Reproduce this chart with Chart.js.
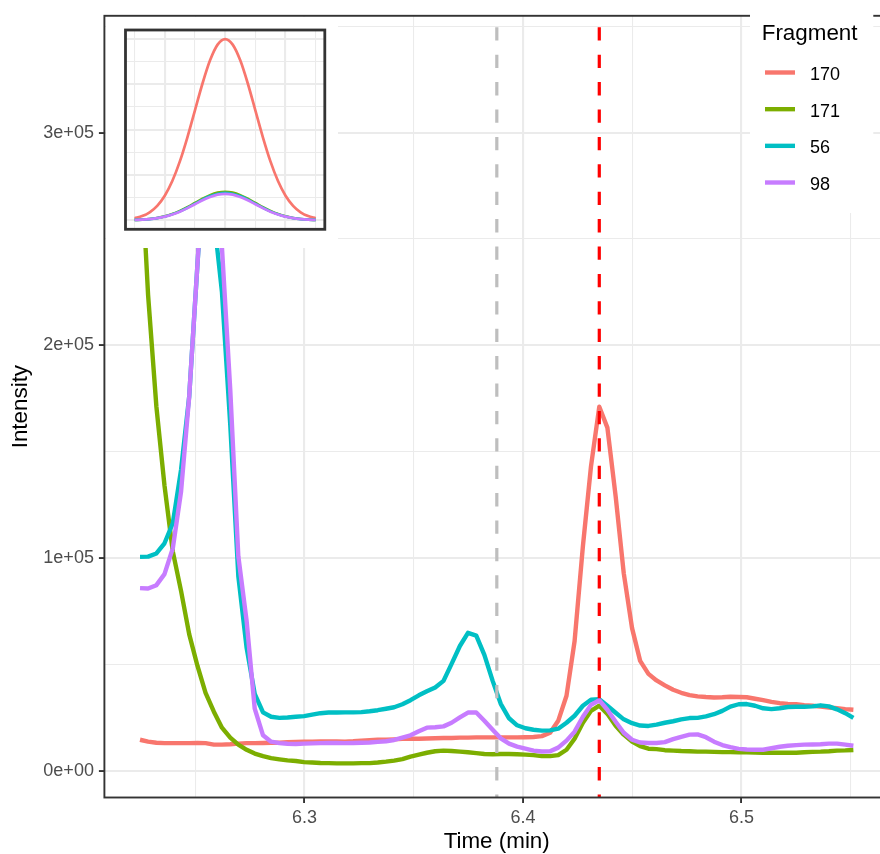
<!DOCTYPE html>
<html><head><meta charset="utf-8">
<script src="https://cdn.jsdelivr.net/npm/chart.js@4.4.1/dist/chart.umd.min.js"></script>
<style>
html,body{margin:0;padding:0;overflow:hidden;background:#fff;width:880px;height:854px;}
#wrap{position:relative;width:890px;height:854px;}
#main{position:absolute;left:0;top:0;}
#insetBox{position:absolute;left:105.5px;top:17px;width:232px;height:231px;background:#fff;}
#inset{position:absolute;left:0;top:0;}
</style></head><body>
<div id="wrap">
<canvas id="main" width="890" height="854"></canvas>
<div id="insetBox"><canvas id="inset" width="232" height="231"></canvas></div>
</div>
<script>
// ---------- data ----------
const fragments = ['170', '171', '56', '98'];
const fragColors = ['#F8766D', '#7CAE00', '#00BFC4', '#C77CFF'];

const times = [
6.2247, 6.2284, 6.2322, 6.2359, 6.2397, 6.2435, 6.2472, 6.2510, 6.2547, 6.2585,
6.2622, 6.2660, 6.2697, 6.2735, 6.2772, 6.2810, 6.2847, 6.2885, 6.2922, 6.2960,
6.2998, 6.3035, 6.3073, 6.3110, 6.3148, 6.3185, 6.3223, 6.3260, 6.3298, 6.3335,
6.3373, 6.3410, 6.3448, 6.3485, 6.3523, 6.3560, 6.3598, 6.3636, 6.3673, 6.3711,
6.3748, 6.3786, 6.3823, 6.3861, 6.3898, 6.3936, 6.3973, 6.4011, 6.4048, 6.4086,
6.4124, 6.4161, 6.4199, 6.4236, 6.4274, 6.4311, 6.4349, 6.4386, 6.4424, 6.4461,
6.4499, 6.4536, 6.4574, 6.4611, 6.4649, 6.4687, 6.4724, 6.4762, 6.4799, 6.4837,
6.4874, 6.4912, 6.4949, 6.4987, 6.5024, 6.5062, 6.5099, 6.5137, 6.5175, 6.5212,
6.5250, 6.5287, 6.5325, 6.5362, 6.5400, 6.5437, 6.5475, 6.5512];

const f170 = [
14500, 13600, 13100, 12900, 12900, 12900, 12900, 13000, 12900, 12200,
12200, 12400, 12700, 12900, 12900, 13000, 13100, 13100, 13400, 13500,
13600, 13600, 13700, 13700, 13700, 13600, 13800, 14100, 14300, 14500,
14500, 14700, 14900, 15000, 15000, 15100, 15200, 15300, 15300, 15500,
15500, 15600, 15600, 15600, 15600, 15600, 15600, 15700, 15800, 16200,
17800, 23400, 35200, 60900, 105500, 143000, 171100, 161300, 128900, 92800,
67000, 51600, 45500, 42400, 40100, 38000, 36600, 35500, 34900, 34600,
34400, 34500, 34700, 34600, 34500, 33800, 33100, 32300, 31700, 31400,
31200, 30800, 30500, 30100, 29700, 29300, 28900, 28600];

const f171 = [
295300, 223600, 171100, 134100, 103100, 84400, 64200, 49200, 36600, 27700,
20200, 15500, 12200, 9800, 8000, 6800, 5900, 5300, 4800, 4500,
4000, 3800, 3600, 3500, 3400, 3400, 3400, 3500, 3500, 3800,
4200, 4700, 5400, 6600, 7500, 8400, 9100, 9400, 9200, 8900,
8600, 8200, 7800, 7700, 7800, 7800, 7700, 7500, 7300, 6800,
6800, 7300, 9800, 15000, 22500, 28100, 30500, 26700, 21100, 16900,
13600, 11500, 10300, 10100, 9600, 9400, 9200, 9100, 8900, 8900,
8800, 8700, 8700, 8600, 8600, 8500, 8400, 8400, 8400, 8400,
8400, 8600, 8800, 8900, 9100, 9400, 9500, 9700];

const f56 = [
100500, 100600, 102100, 106900, 116300, 141600, 175800, 238200, 295300, 260200,
225000, 162700, 91400, 57700, 36100, 27400, 25300, 24800, 25000, 25300,
25600, 26300, 27000, 27300, 27300, 27400, 27400, 27500, 27900, 28400,
29100, 29800, 31200, 33100, 35400, 37300, 39100, 42200, 50200, 58600,
64800, 63500, 54400, 42200, 31400, 24600, 21300, 19900, 19200, 18800,
18900, 19700, 22500, 25800, 30500, 33300, 33600, 30500, 27200, 24100,
22300, 21200, 21000, 21600, 22500, 23200, 24100, 24700, 24800, 25500,
26500, 28100, 30100, 31200, 31300, 30500, 29300, 28900, 29300, 29900,
30000, 30000, 30200, 30700, 30200, 28800, 27000, 24800];

const f98 = [
85800, 85600, 87200, 92400, 104500, 131300, 175800, 238200, 300000, 276600,
246100, 179100, 100800, 70300, 29100, 16600, 13600, 12900, 12600, 12500,
12700, 12800, 12900, 13000, 13000, 12900, 13000, 13100, 13200, 13500,
13800, 14400, 15500, 16600, 18500, 20200, 20400, 20800, 22500, 25000,
27300, 27300, 23400, 19200, 15200, 12700, 11300, 10300, 9400, 9000,
9100, 10800, 14100, 18300, 25300, 30900, 33100, 28600, 23000, 17800,
14500, 13200, 13000, 13000, 13400, 14800, 15900, 16900, 17000, 15700,
13600, 12000, 11000, 10200, 9900, 9800, 9800, 10500, 11200, 11700,
12000, 12200, 12300, 12400, 12700, 12700, 12200, 11700];

// reference retention times (dashed vertical lines)
const vlineTimes = [6.388, 6.4349];
const vlineColors = ['#BEBEBE', '#FF0000'];

// axes
const xMin = 6.2084, xMax = 6.5675;
const yMin = -12650, yMax = 354940;
const xMajorTicks = [6.3, 6.4, 6.5];
const xTickLabels = ['6.3', '6.4', '6.5'];
const xMinorTicks = [6.25, 6.35, 6.45, 6.55];
const yMajorTicks = [0, 100000, 200000, 300000];
const yTickLabels = ['0e+00', '1e+05', '2e+05', '3e+05'];
const yMinorTicks = [50000, 150000, 250000, 350000];

// inset (fitted peak shapes, relative intensity)
const insetX = [-3, -2.75, -2.5, -2.25, -2, -1.75, -1.5, -1.25, -1, -0.75, -0.5, -0.25, 0,
                0.25, 0.5, 0.75, 1, 1.25, 1.5, 1.75, 2, 2.25, 2.5, 2.75, 3];
const inset170 = [0.0111, 0.0228, 0.0439, 0.0796, 0.1353, 0.2163, 0.3247, 0.4578, 0.6065, 0.7548, 0.8825, 0.9692, 1,
                  0.9692, 0.8825, 0.7548, 0.6065, 0.4578, 0.3247, 0.2163, 0.1353, 0.0796, 0.0439, 0.0228, 0.0111];
const inset171 = [0.0017, 0.0036, 0.0069, 0.0125, 0.0212, 0.0340, 0.0510, 0.0719, 0.0952, 0.1185, 0.1386, 0.1522, 0.157,
                  0.1522, 0.1386, 0.1185, 0.0952, 0.0719, 0.0510, 0.0340, 0.0212, 0.0125, 0.0069, 0.0036, 0.0017];
const inset56 = [0.0017, 0.0034, 0.0066, 0.0120, 0.0204, 0.0327, 0.0490, 0.0691, 0.0916, 0.1140, 0.1333, 0.1463, 0.151,
                 0.1463, 0.1333, 0.1140, 0.0916, 0.0691, 0.0490, 0.0327, 0.0204, 0.0120, 0.0066, 0.0034, 0.0017];
const inset98 = [0.0016, 0.0033, 0.0064, 0.0116, 0.0198, 0.0316, 0.0474, 0.0668, 0.0885, 0.1102, 0.1288, 0.1415, 0.146,
                 0.1415, 0.1288, 0.1102, 0.0885, 0.0668, 0.0474, 0.0316, 0.0198, 0.0116, 0.0064, 0.0033, 0.0016];
const insetXMajor = [-2, 0, 2];
const insetXMinor = [-3, -1, 1, 3];
const insetYMajor = [0, 0.25, 0.5, 0.75, 1];
const insetYMinor = [0.125, 0.375, 0.625, 0.875];

// ---------- rendering ----------
const FONT = '"Liberation Sans", Arial, Helvetica, sans-serif';
Chart.defaults.font.family = FONT;
const GRID = '#EBEBEB';
const DARK = '#333333';

const series = [f170, f171, f56, f98];
const mainDatasets = fragments.map((f, k) => ({
  label: f,
  data: times.map((t, i) => ({x: t, y: series[k][i]})),
  borderColor: fragColors[k],
  backgroundColor: fragColors[k],
  borderWidth: 4.4,
  pointRadius: 0,
  tension: 0,
  fill: false,
  borderJoinStyle: 'round',
  borderCapStyle: 'butt',
  order: 4 - k
}));

const isIn = (arr, v) => arr.some(a => Math.abs(a - v) < 1e-9);

const overlay = {
  id: 'overlay',
  afterDatasetsDraw(chart) {
    const {ctx, chartArea: a, scales: {x}} = chart;
    ctx.save();
    // dashed reference lines
    ctx.lineWidth = 3.2;
    ctx.lineCap = 'butt';
    ctx.setLineDash([13.3, 14.1]);
    ctx.lineDashOffset = 15.9;
    vlineTimes.forEach((t, k) => {
      const px = x.getPixelForValue(t);
      ctx.strokeStyle = vlineColors[k];
      ctx.beginPath();
      ctx.moveTo(px, a.top);
      ctx.lineTo(px, a.bottom);
      ctx.stroke();
    });
    ctx.setLineDash([]);
    // panel border
    ctx.strokeStyle = DARK;
    ctx.lineWidth = 1.9;
    ctx.strokeRect(a.left, a.top, a.right - a.left, a.bottom - a.top);
    // legend (inside, top right)
    ctx.fillStyle = '#FFFFFF';
    ctx.fillRect(750, 0, 123.3, 213);
    ctx.fillStyle = '#000000';
    ctx.textAlign = 'left';
    ctx.textBaseline = 'alphabetic';
    ctx.font = '22.4px ' + FONT;
    ctx.fillText('Fragment', 761.7, 40);
    ctx.font = '18px ' + FONT;
    fragments.forEach((f, k) => {
      const cy = 72.5 + 36.67 * k;
      ctx.strokeStyle = fragColors[k];
      ctx.lineWidth = 4.4;
      ctx.beginPath();
      ctx.moveTo(765, cy);
      ctx.lineTo(795, cy);
      ctx.stroke();
      ctx.fillStyle = '#000000';
      ctx.fillText(f, 810, cy + 7.4);
    });
    ctx.restore();
  }
};

new Chart(document.getElementById('main'), {
  type: 'line',
  data: {datasets: mainDatasets},
  options: {
    responsive: false,
    animation: false,
    events: [],
    layout: {padding: {top: 12.7, left: 0, right: 1, bottom: 0}},
    plugins: {legend: {display: false}, tooltip: {enabled: false}},
    scales: {
      x: {
        type: 'linear',
        min: xMin, max: xMax,
        afterBuildTicks: s => { s.ticks = xMinorTicks.concat(xMajorTicks).sort((a, b) => a - b).map(v => ({value: v})); },
        afterFit: s => { s.height = 854 - 797.5; },
        ticks: {
          autoSkip: false, maxRotation: 0, minRotation: 0, padding: 4,
          color: '#4D4D4D', font: {size: 18},
          callback: v => { const i = xMajorTicks.findIndex(m => Math.abs(m - v) < 1e-9); return i >= 0 ? xTickLabels[i] : ''; }
        },
        grid: {
          color: GRID,
          lineWidth: c => (c.tick && isIn(xMajorTicks, c.tick.value)) ? 2.1 : 1.05,
          tickColor: c => (c.tick && isIn(xMajorTicks, c.tick.value)) ? DARK : 'rgba(0,0,0,0)',
          tickLength: 5.5, tickWidth: 1.9, drawTicks: true
        },
        border: {display: false},
        title: {display: true, text: 'Time (min)', color: '#000000', font: {size: 22.4, lineHeight: 1}, padding: {top: 0, bottom: 1.3}}
      },
      y: {
        type: 'linear',
        min: yMin, max: yMax,
        afterBuildTicks: s => { s.ticks = yMinorTicks.concat(yMajorTicks).sort((a, b) => a - b).map(v => ({value: v})); },
        afterFit: s => { s.width = 104.4; },
        ticks: {
          autoSkip: false, padding: 5,
          color: '#4D4D4D', font: {size: 18},
          callback: v => { const i = yMajorTicks.indexOf(v); return i >= 0 ? yTickLabels[i] : ''; }
        },
        grid: {
          color: GRID,
          lineWidth: c => (c.tick && isIn(yMajorTicks, c.tick.value)) ? 2.1 : 1.05,
          tickColor: c => (c.tick && isIn(yMajorTicks, c.tick.value)) ? DARK : 'rgba(0,0,0,0)',
          tickLength: 5.5, tickWidth: 1.9, drawTicks: true
        },
        border: {display: false},
        title: {display: true, text: 'Intensity', color: '#000000', font: {size: 22.4, lineHeight: 1}, padding: {top: 9.2, bottom: 0}}
      }
    }
  },
  plugins: [overlay]
});

// ---------- inset ----------
const insetSeries = [inset170, inset171, inset56, inset98];
const insetBorder = {
  id: 'insetBorder',
  afterDatasetsDraw(chart) {
    const {ctx, chartArea: a} = chart;
    ctx.save();
    ctx.strokeStyle = DARK;
    ctx.lineWidth = 2.8;
    ctx.strokeRect(a.left, a.top, a.right - a.left, a.bottom - a.top);
    ctx.restore();
  }
};
new Chart(document.getElementById('inset'), {
  type: 'line',
  data: {datasets: insetSeries.map((s, k) => ({
    label: fragments[k],
    data: insetX.map((x, i) => ({x: x, y: s[i]})),
    borderColor: fragColors[k],
    borderWidth: 2.7,
    pointRadius: 0,
    cubicInterpolationMode: 'monotone',
    fill: false,
    order: 4 - k
  }))},
  options: {
    responsive: false,
    animation: false,
    events: [],
    layout: {padding: {left: 19.5, top: 13, right: 13.2, bottom: 18.7}},
    plugins: {legend: {display: false}, tooltip: {enabled: false}},
    scales: {
      x: {
        type: 'linear', min: -3.3, max: 3.3,
        afterBuildTicks: s => { s.ticks = insetXMinor.concat(insetXMajor).sort((a, b) => a - b).map(v => ({value: v})); },
        afterFit: s => { s.height = 0; },
        ticks: {display: false},
        grid: {color: GRID, drawTicks: false, lineWidth: c => (c.tick && isIn(insetXMajor, c.tick.value)) ? 2.1 : 1.05},
        border: {display: false}
      },
      y: {
        type: 'linear', min: -0.05, max: 1.05,
        afterBuildTicks: s => { s.ticks = insetYMinor.concat(insetYMajor).sort((a, b) => a - b).map(v => ({value: v})); },
        afterFit: s => { s.width = 0; },
        ticks: {display: false},
        grid: {color: GRID, drawTicks: false, lineWidth: c => (c.tick && isIn(insetYMajor, c.tick.value)) ? 2.1 : 1.05},
        border: {display: false}
      }
    }
  },
  plugins: [insetBorder]
});
</script>
</body></html>
